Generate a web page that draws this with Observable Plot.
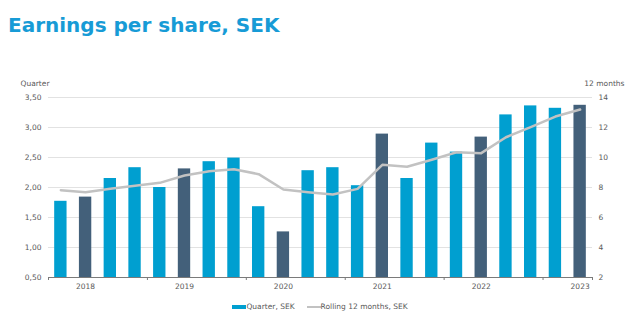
<!DOCTYPE html>
<html>
<head>
<meta charset="utf-8">
<script src="https://cdn.jsdelivr.net/npm/d3@7"></script>
<script src="https://cdn.jsdelivr.net/npm/@observablehq/plot@0.6"></script>
<style>
  html, body { margin: 0; padding: 0; background: #fff; }
  body { width: 640px; height: 321px; position: relative; overflow: hidden; font-family: "DejaVu Sans", Verdana, sans-serif; }
  #title { position: absolute; left: 8px; top: 13px; font-size: 20px; font-weight: bold; color: #179bd6; white-space: nowrap; }
  #chart { position: absolute; left: 0; top: 50px; }
  #legend { position: absolute; left: 0; top: 302px; width: 640px; display: flex; justify-content: center; align-items: center; font-size: 7.5px; color: #595959; }
  .item { display: flex; align-items: center; margin: 0 6px; }
  .sw-bar { width: 14px; height: 4px; background: #009fd0; }
  .sw-line { width: 14px; height: 2px; background: #c2c2c2; }
</style>
</head>
<body>
<div id="title">Earnings per share, SEK</div>
<div id="chart"></div>
<div id="legend">
  <div class="item"><div class="sw-bar"></div><span>Quarter, SEK</span></div>
  <div class="item"><div class="sw-line"></div><span>Rolling 12 months, SEK</span></div>
</div>
<script>
const quarters = ["Q4 2017","Q1 2018","Q2 2018","Q3 2018","Q4 2018","Q1 2019","Q2 2019","Q3 2019","Q4 2019","Q1 2020","Q2 2020","Q3 2020","Q4 2020","Q1 2021","Q2 2021","Q3 2021","Q4 2021","Q1 2022","Q2 2022","Q3 2022","Q4 2022","Q1 2023"];
const quarterEPS = [1.77,1.84,2.15,2.33,2.00,2.31,2.43,2.49,1.68,1.26,2.28,2.33,2.03,2.89,2.15,2.74,2.59,2.84,3.21,3.36,3.32,3.37];
const rolling12m = [7.82,7.69,7.91,8.11,8.31,8.80,9.09,9.22,8.89,7.87,7.69,7.53,7.91,9.51,9.38,9.85,10.35,10.29,11.35,12.02,12.73,13.20];
const leftTicks = [0.5,1.0,1.5,2.0,2.5,3.0,3.5];
const axisTitles = ["Quarter", "12 months"];
const rightToLeft = 4; // right axis (12 months) = 4 x left axis (quarter)

const lightBlue = "#009fd0";
const darkBlue = "#43607a";

const data = quarters.map((q, i) => ({
  q, i, eps: quarterEPS[i], roll: rolling12m[i], q1: q.startsWith("Q1"), year: q.slice(3)
}));
const q1Idx = data.filter(d => d.q1).map(d => d.i);
const boundaries = [-0.5, ...data.filter(d => d.q.startsWith("Q3")).map(d => d.i + 0.5), quarters.length - 0.5];

const fmt = d => d.toFixed(2).replace(".", ",");

const chart = Plot.plot({
  width: 640,
  height: 250,
  marginTop: 47,
  marginBottom: 23,
  marginLeft: 48,
  marginRight: 48,
  style: { fontFamily: "'DejaVu Sans', Verdana, sans-serif", fontSize: "7.5px", color: "#595959", background: "#fff", overflow: "visible" },
  x: { type: "linear", domain: [-0.5, quarters.length - 0.5], axis: null },
  y: { domain: [0.5, 3.5], axis: null },
  marks: [
    Plot.gridY(leftTicks, { stroke: "#e2e2e2", strokeOpacity: 1 }),
    Plot.axisY(leftTicks, { anchor: "left", tickSize: 0, tickPadding: 7, tickFormat: fmt, label: null }),
    Plot.axisY(leftTicks, { anchor: "right", tickSize: 0, tickPadding: 6, tickFormat: d => String(Math.round(d * rightToLeft)), label: null }),
    Plot.text([axisTitles[0]], { frameAnchor: "top-left", textAnchor: "start", dx: -28, dy: -17, fill: "#595959" }),
    Plot.text([axisTitles[1]], { frameAnchor: "top-right", textAnchor: "end", dx: 32, dy: -17, fill: "#595959" }),
    Plot.rectY(data, { x1: d => d.i - 0.25, x2: d => d.i + 0.25, y1: 0.5, y2: "eps", fill: d => d.q1 ? darkBlue : lightBlue }),
    Plot.lineY(data, { x: "i", y: d => d.roll / rightToLeft, stroke: "#c2c2c2", strokeWidth: 2.5 }),
    Plot.ruleY([0.5], { stroke: "#7a7a7a" }),
    Plot.axisX(boundaries, { anchor: "bottom", tickSize: 3, stroke: "#7a7a7a", tickFormat: () => "", label: null }),
    Plot.axisX(q1Idx, { anchor: "bottom", tickSize: 0, tickPadding: 6, tickFormat: i => data[i].year, label: null })
  ]
});
document.getElementById("chart").appendChild(chart);
</script>
</body>
</html>
